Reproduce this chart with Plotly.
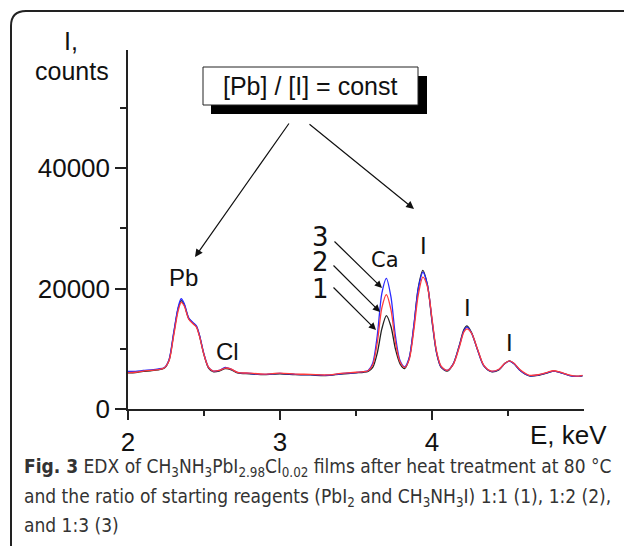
import plotly.graph_objects as go

W, H = 624, 546

# Energy grid (keV) and intensities (counts)
energy = [2.00, 2.05, 2.10, 2.15, 2.20, 2.24, 2.27, 2.30, 2.33, 2.35,
          2.37, 2.40, 2.43, 2.45, 2.47, 2.50, 2.53, 2.56, 2.60, 2.64,
          2.68, 2.72, 2.80, 2.90, 3.00, 3.10, 3.20, 3.30, 3.40, 3.50,
          3.55, 3.58, 3.61, 3.64, 3.67, 3.70, 3.73, 3.76, 3.79, 3.82,
          3.85, 3.88, 3.91, 3.94, 3.97, 4.00, 4.03, 4.06, 4.10, 4.14,
          4.18, 4.21, 4.23, 4.26, 4.30, 4.34, 4.39, 4.44, 4.48, 4.51,
          4.54, 4.58, 4.64, 4.70, 4.76, 4.80, 4.84, 4.90, 4.95, 4.99]

counts_1 = [6000, 6050, 6250, 6350, 6500, 6800, 8100, 12400, 16700, 18000,
            17300, 15000, 14200, 13700, 12200, 9000, 6800, 6200, 6300, 6700,
            6500, 6000, 5850, 5700, 5850, 5700, 5650, 5550, 5800, 6000,
            6100, 6250, 6900, 9300, 13300, 15500, 13700, 9900, 7500, 6700,
            8400, 13600, 20200, 23000, 20600, 14600, 9300, 6900, 6300, 7500,
            10600, 13200, 13800, 12700, 9800, 7200, 6200, 6500, 7600, 8000,
            7500, 6400, 5500, 5600, 6000, 6300, 6100, 5600, 5400, 5500]

counts_2 = [6050, 6100, 6300, 6400, 6550, 6850, 8000, 12100, 16300, 17700,
            17100, 14900, 14100, 13600, 12100, 9000, 6900, 6300, 6400, 6800,
            6600, 6100, 5950, 5800, 5950, 5800, 5750, 5650, 5900, 6100,
            6200, 6350, 7300, 11000, 16800, 19000, 16500, 11000, 7800, 6900,
            8200, 13000, 19000, 21900, 20300, 15000, 9600, 7100, 6400, 7400,
            10300, 12800, 13300, 12600, 9900, 7300, 6300, 6600, 7600, 8000,
            7600, 6500, 5600, 5700, 6100, 6350, 6150, 5650, 5450, 5600]

counts_3 = [6250, 6250, 6400, 6500, 6650, 6900, 8200, 12600, 16900, 18300,
            17500, 15100, 14300, 13800, 12300, 9100, 6900, 6300, 6400, 6900,
            6600, 6100, 5900, 5750, 5900, 5750, 5700, 5600, 5850, 6050,
            6200, 6400, 7600, 12200, 19200, 21700, 18600, 12000, 8000, 7000,
            8500, 13800, 20000, 22700, 20600, 14800, 9400, 7000, 6400, 7500,
            10500, 13000, 13600, 12600, 9800, 7200, 6250, 6550, 7550, 7950,
            7500, 6400, 5550, 5650, 6050, 6300, 6100, 5600, 5400, 5550]

series_names = ["1", "2", "3"]
series_colors = ["#222222", "#ff3b3b", "#2a2aff"]

x_ticks = [2, 3, 4]
x_tick_labels = ["2", "3", "4"]
x_minor = [2.5, 3.5, 4.5]
y_ticks = [0, 20000, 40000]
y_tick_labels = ["0", "20000", "40000"]
y_minor = [10000, 30000, 50000]


def px(x):
    return x / W


def py(y):
    return 1 - y / H


ARIAL = "Liberation Sans, Arial, sans-serif"

fig = go.Figure()
for name, ys, col in [(series_names[0], counts_1, series_colors[0]),
                      (series_names[2], counts_3, series_colors[2]),
                      (series_names[1], counts_2, series_colors[1])]:
    fig.add_trace(go.Scatter(x=energy, y=ys, mode="lines", name=name,
                             line=dict(color=col, width=1.3, shape="spline",
                                       smoothing=0.8),
                             showlegend=False))

fig.update_layout(
    width=W, height=H,
    margin=dict(l=0, r=0, t=0, b=0, autoexpand=False),
    paper_bgcolor="white", plot_bgcolor="white",
    xaxis=dict(domain=[px(128), px(584)], range=[2, 5],
               tickvals=x_ticks, ticktext=x_tick_labels,
               ticks="outside", ticklen=9, tickwidth=1.5,
               tickcolor="#222", showline=True, linecolor="#222", linewidth=1.5,
               showgrid=False, zeroline=False, automargin=False,
               tickfont=dict(family=ARIAL, size=26, color="#111"),
               minor=dict(tickvals=x_minor, ticks="outside", ticklen=5,
                          tickwidth=1.5, tickcolor="#222")),
    yaxis=dict(domain=[py(409), py(50)], range=[0, 59600],
               tickvals=y_ticks, ticktext=y_tick_labels,
               ticks="outside", ticklen=11, tickwidth=1.5,
               tickcolor="#222", showline=True, linecolor="#222", linewidth=1.5,
               showgrid=False, zeroline=False, automargin=False,
               tickfont=dict(family=ARIAL, size=26, color="#111"),
               minor=dict(tickvals=y_minor, ticks="outside", ticklen=6,
                          tickwidth=1.5, tickcolor="#222")),
)

# Outer rounded frame
frame = (f"M {px(11)},{py(560)} L {px(11)},{py(26)} "
         f"Q {px(11)},{py(11)} {px(26)},{py(11)} L {px(640)},{py(11)}")
fig.add_shape(type="path", path=frame, xref="paper", yref="paper",
              line=dict(color="#222", width=2))

# Shadowed box
fig.add_shape(type="rect", xref="paper", yref="paper",
              x0=px(211), x1=px(427), y0=py(114), y1=py(76),
              fillcolor="black", line=dict(width=0))
fig.add_shape(type="rect", xref="paper", yref="paper",
              x0=px(203), x1=px(418), y0=py(105), y1=py(67),
              fillcolor="white", line=dict(color="#222", width=1))


def text(x, y, s, size=25, family=ARIAL, xanchor="center", color="#111"):
    fig.add_annotation(x=px(x), y=py(y), xref="paper", yref="paper", text=s,
                       showarrow=False, xanchor=xanchor, yanchor="middle",
                       font=dict(family=family, size=size, color=color))


def arrow(tx, ty, hx, hy, size=1.2):
    fig.add_annotation(x=px(hx), y=py(hy), xref="paper", yref="paper", text="",
                       showarrow=True, ax=tx - hx, ay=ty - hy,
                       arrowhead=2, arrowsize=size, arrowwidth=1.2,
                       arrowcolor="#111", font=dict(size=12))


text(310, 86, "[Pb] / [I] = const", size=25)
text(71, 41, "I,", size=25)
text(72, 71, "counts", size=25)
text(568, 435, "E, keV", size=26)
text(183, 277, "Pb", size=24)
text(227, 351, "Cl", size=24)
text(423, 246, "I", size=24)
text(467, 307, "I", size=24)
text(509, 342, "I", size=24)
DJ = "DejaVu Sans, Verdana, sans-serif"
text(385, 260, "Ca", size=21, family=DJ)
text(320, 237, "3", size=26, family=DJ)
text(320, 262, "2", size=26, family=DJ)
text(320, 289, "1", size=26, family=DJ)

arrow(290, 122, 195, 257, 1.3)
arrow(308, 123, 414, 209, 1.3)
arrow(333, 240, 382, 288)
arrow(332, 264, 380, 312)
arrow(332, 286, 376, 330)

CAP = "Liberation Sans Narrow, DejaVu Sans Condensed, Liberation Sans, sans-serif"
text(22, 467, "<b>Fig. 3</b> EDX of CH<sub>3</sub>NH<sub>3</sub>PbI<sub>2.98</sub>Cl<sub>0.02</sub>"
     " films after heat treatment at 80 °C", size=19, family=CAP, xanchor="left", color="#333")
text(22, 497, "and the ratio of starting reagents (PbI<sub>2</sub> and CH<sub>3</sub>NH<sub>3</sub>I)"
     " 1:1 (1), 1:2 (2),", size=19, family=CAP, xanchor="left", color="#333")
text(22, 525, "and 1:3 (3)", size=19, family=CAP, xanchor="left", color="#333")

fig.write_html("out.html",
               post_script="document.body.style.margin='0';")
